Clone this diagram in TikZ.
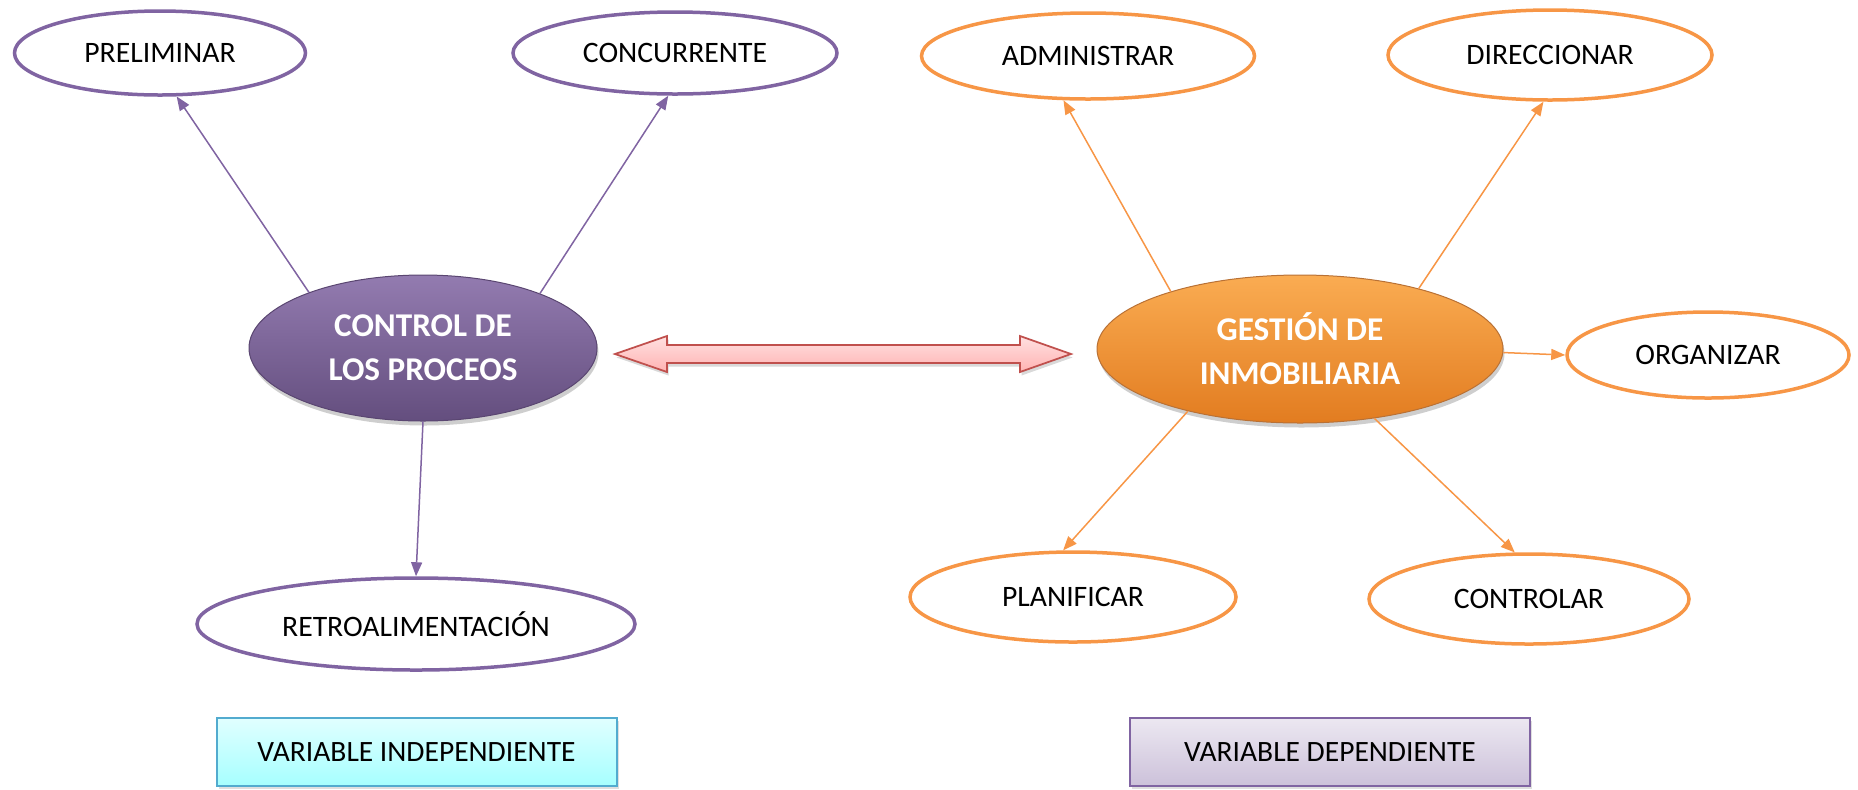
\documentclass[tikz,border=0pt]{standalone}
\usepackage{fontspec}
\setmainfont{Carlito}
\usetikzlibrary{shapes.geometric,arrows.meta,shadows}
\definecolor{vio}{HTML}{8064A2}
\definecolor{ora}{HTML}{F79646}
\definecolor{arrred}{HTML}{C0504D}
\definecolor{hubotop}{RGB}{250,172,82}
\definecolor{hubomid}{RGB}{247,148,42}
\definecolor{hubobot}{RGB}{226,124,32}
\begin{document}
\begin{tikzpicture}[x=0.02cm,y=-0.02cm,
  leaf/.style 2 args={ellipse, draw, fill=white, line width=0.07cm,
    minimum width=#1*0.02cm, minimum height=#2*0.02cm, inner sep=0pt,
    font=\fontsize{16.9}{20}\selectfont},
  leafv/.style 2 args={leaf={#1}{#2}, draw=vio},
  leafo/.style 2 args={leaf={#1}{#2}, draw=ora},
  hub/.style 2 args={ellipse, inner sep=0pt, text=white, align=center,
    minimum width=#1*0.02cm, minimum height=#2*0.02cm,
    font=\fontsize{18.9}{25}\selectfont\bfseries,
    drop shadow={shadow xshift=0.03cm, shadow yshift=-0.09cm, opacity=0.35, fill=black!55}},
  hubv/.style={hub={348}{146}, top color=vio!85!white, middle color=vio!97!black,
    bottom color=vio!78!black, draw=vio!70!black, line width=0.02cm},
  hubo/.style={hub={406}{148}, top color=hubotop, middle color=hubomid,
    bottom color=hubobot, draw=ora!75!black, line width=0.02cm},
  varbox/.style={rectangle, minimum width=400*0.02cm, minimum height=68*0.02cm,
    inner sep=0pt, line width=0.04cm, font=\fontsize{16.8}{20}\selectfont,
    drop shadow={shadow xshift=0.04cm, shadow yshift=-0.05cm, opacity=0.25, fill=black!50}},
  link/.style={line width=0.03cm, -{Triangle[length=0.28cm,width=0.22cm]}},
  linkv/.style={link, draw=vio, fill=vio},
  linko/.style={link, draw=ora, fill=ora},
  darrow/.style={draw=arrred, line width=0.035cm, line join=miter,
    top color=red!12!white, bottom color=red!30!white,
    drop shadow={shadow xshift=0.03cm, shadow yshift=-0.07cm, opacity=0.3, fill=black!50}}
]
\useasboundingbox (0,0) rectangle (1858,789);

% independent variable: process control
\node[leafv={291}{84}] (pre) at (160,53) {PRELIMINAR};
\node[leafv={324}{82}] (con) at (675,53) {CONCURRENTE};
\node[leafv={438}{92}] (ret) at (416,624) {RETROALIMENTACIÓN};
\node[hubv] (ctrl) at (423,348) {CONTROL DE\\LOS PROCEOS};

\draw[linkv] (ctrl.154.8) -- (pre.-69.8);
\draw[linkv] (ctrl.25.8) -- (con.-99);
\draw[linkv] (ctrl.-90) -- (ret.90);

% dependent variable: real-estate management
\node[hubo] (gest) at (1300,349) {GESTIÓN DE\\INMOBILIARIA};
\node[leafo={333}{86}] (adm) at (1088,56) {ADMINISTRAR};
\node[leafo={324}{90}] (dir) at (1550,55) {DIRECCIONAR};
\node[leafo={282}{86}] (org) at (1708,355) {ORGANIZAR};
\node[leafo={326}{90}] (pla) at (1073,597) {PLANIFICAR};
\node[leafo={320}{90}] (ctl) at (1529,599) {CONTROLAR};

\draw[linko] (gest.156.7) -- (adm.-119);
\draw[linko] (gest.27.5) -- (dir.-98.8);
\draw[linko] (gest.-1.5) -- (org.west);
\draw[linko] (gest.-151.4) -- (pla.102);
\draw[linko] (gest.-43) -- (ctl.107);

% relation between both variables
\path[darrow] (615,354) -- (667,336) -- (667,345) -- (1020,345) -- (1020,336)
  -- (1071,354) -- (1020,372) -- (1020,363) -- (667,363) -- (667,372) -- cycle;

% variable labels
\node[varbox, draw=cyan!55!teal!80!white, top color=cyan!12!white, bottom color=cyan!35!white]
  (vi) at (416.5,752) {VARIABLE INDEPENDIENTE};
\node[varbox, draw=vio, top color=vio!15!white, bottom color=vio!40!white]
  (vd) at (1330,752) {VARIABLE DEPENDIENTE};
\end{tikzpicture}
\end{document}
